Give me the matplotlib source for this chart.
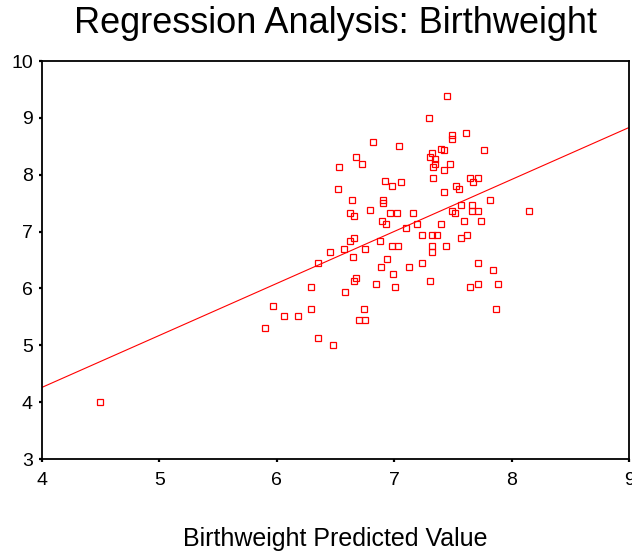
import matplotlib
matplotlib.use("Agg")
import matplotlib.pyplot as plt
import numpy as np

# Data
predicted = [6.82, 6.675, 6.728, 6.530, 6.519, 6.638, 6.621, 6.660, 6.794, 6.924,
             6.907, 6.907, 6.899, 6.930, 7.450, 7.294, 7.043, 7.490, 7.490, 7.609,
             7.319, 7.305, 7.396, 7.424, 7.348, 7.348, 7.333, 7.475, 7.424, 7.765,
             7.333, 7.646, 7.711, 7.674, 6.979, 7.055, 7.526, 7.555, 7.424, 7.819,
             7.569, 7.490, 7.520, 7.660, 7.660, 7.711, 6.964, 7.026, 7.160, 8.148,
             7.198, 7.397, 7.596, 7.739, 7.098, 7.239, 7.319, 7.362, 7.569, 7.623,
             6.875, 6.979, 7.030, 7.319, 7.319, 7.439, 6.939, 6.889, 7.124, 7.239,
             6.992, 7.711, 7.844, 7.305, 7.004, 7.646, 7.711, 7.882, 7.870, 6.660,
             6.624, 6.754, 6.570, 6.453, 6.649, 6.348, 6.677, 6.660, 6.845, 6.294,
             6.584, 5.965, 6.294, 6.743, 6.059, 6.178, 6.700, 6.754, 5.897, 6.348,
             6.479, 4.494]
birthweight = [8.57, 8.32, 8.19, 8.14, 7.75, 7.56, 7.33, 7.27, 7.38, 7.89,
               7.56, 7.50, 7.19, 7.14, 9.38, 9.00, 8.51, 8.70, 8.62, 8.73,
               8.38, 8.32, 8.46, 8.43, 8.28, 8.18, 8.14, 8.19, 8.08, 8.43,
               7.94, 7.94, 7.94, 7.88, 7.81, 7.88, 7.81, 7.75, 7.70, 7.56,
               7.46, 7.37, 7.33, 7.46, 7.37, 7.37, 7.33, 7.33, 7.33, 7.37,
               7.14, 7.14, 7.18, 7.18, 7.07, 6.94, 6.94, 6.94, 6.89, 6.94,
               6.84, 6.74, 6.74, 6.74, 6.64, 6.74, 6.51, 6.37, 6.37, 6.45,
               6.26, 6.45, 6.32, 6.13, 6.02, 6.02, 6.08, 6.07, 5.64, 6.89,
               6.84, 6.70, 6.70, 6.64, 6.56, 6.45, 6.18, 6.13, 6.07, 6.02,
               5.93, 5.69, 5.64, 5.64, 5.51, 5.51, 5.45, 5.45, 5.31, 5.12,
               5.01, 4.00]

fit_intercept = 0.604
fit_slope = 0.914

x_ticks = [4, 5, 6, 7, 8, 9]
y_ticks = [3, 4, 5, 6, 7, 8, 9, 10]

title = "Regression Analysis: Birthweight"
x_label = "Birthweight Predicted Value"

plt.rcParams['font.family'] = ['Liberation Sans', 'DejaVu Sans']

fig = plt.figure(figsize=(6.32, 5.54), dpi=100)
ax = fig.add_axes([42/632, 1 - 459/554, (629-42)/632, (459-61)/554])

ax.set_xlim(4, 9)
ax.set_ylim(3, 10)

xs = np.array(ax.get_xlim())
ax.plot(xs, fit_intercept + fit_slope * xs, color='#ff0000', linewidth=0.8, zorder=2)

ax.plot(predicted, birthweight, linestyle='none', marker='s', markersize=4.8,
        markerfacecolor='none', markeredgecolor='#ff0000', markeredgewidth=0.9,
        zorder=3, clip_on=False)

ax.set_xticks(x_ticks)
ax.set_yticks(y_ticks)
ax.set_xticklabels([str(t) for t in x_ticks])
ax.set_yticklabels([str(t) for t in y_ticks])
ax.tick_params(axis='both', direction='out', length=2.5, width=1.6, color='black',
               labelsize=14)
ax.tick_params(axis='x', pad=7)
ax.tick_params(axis='y', pad=4)

for s in ax.spines.values():
    s.set_linewidth(1.3)
    s.set_color('black')

ax.set_title(title, fontsize=26, pad=20)
ax.set_xlabel(x_label, fontsize=18, labelpad=27)

fig.savefig("out.png", dpi=100)
